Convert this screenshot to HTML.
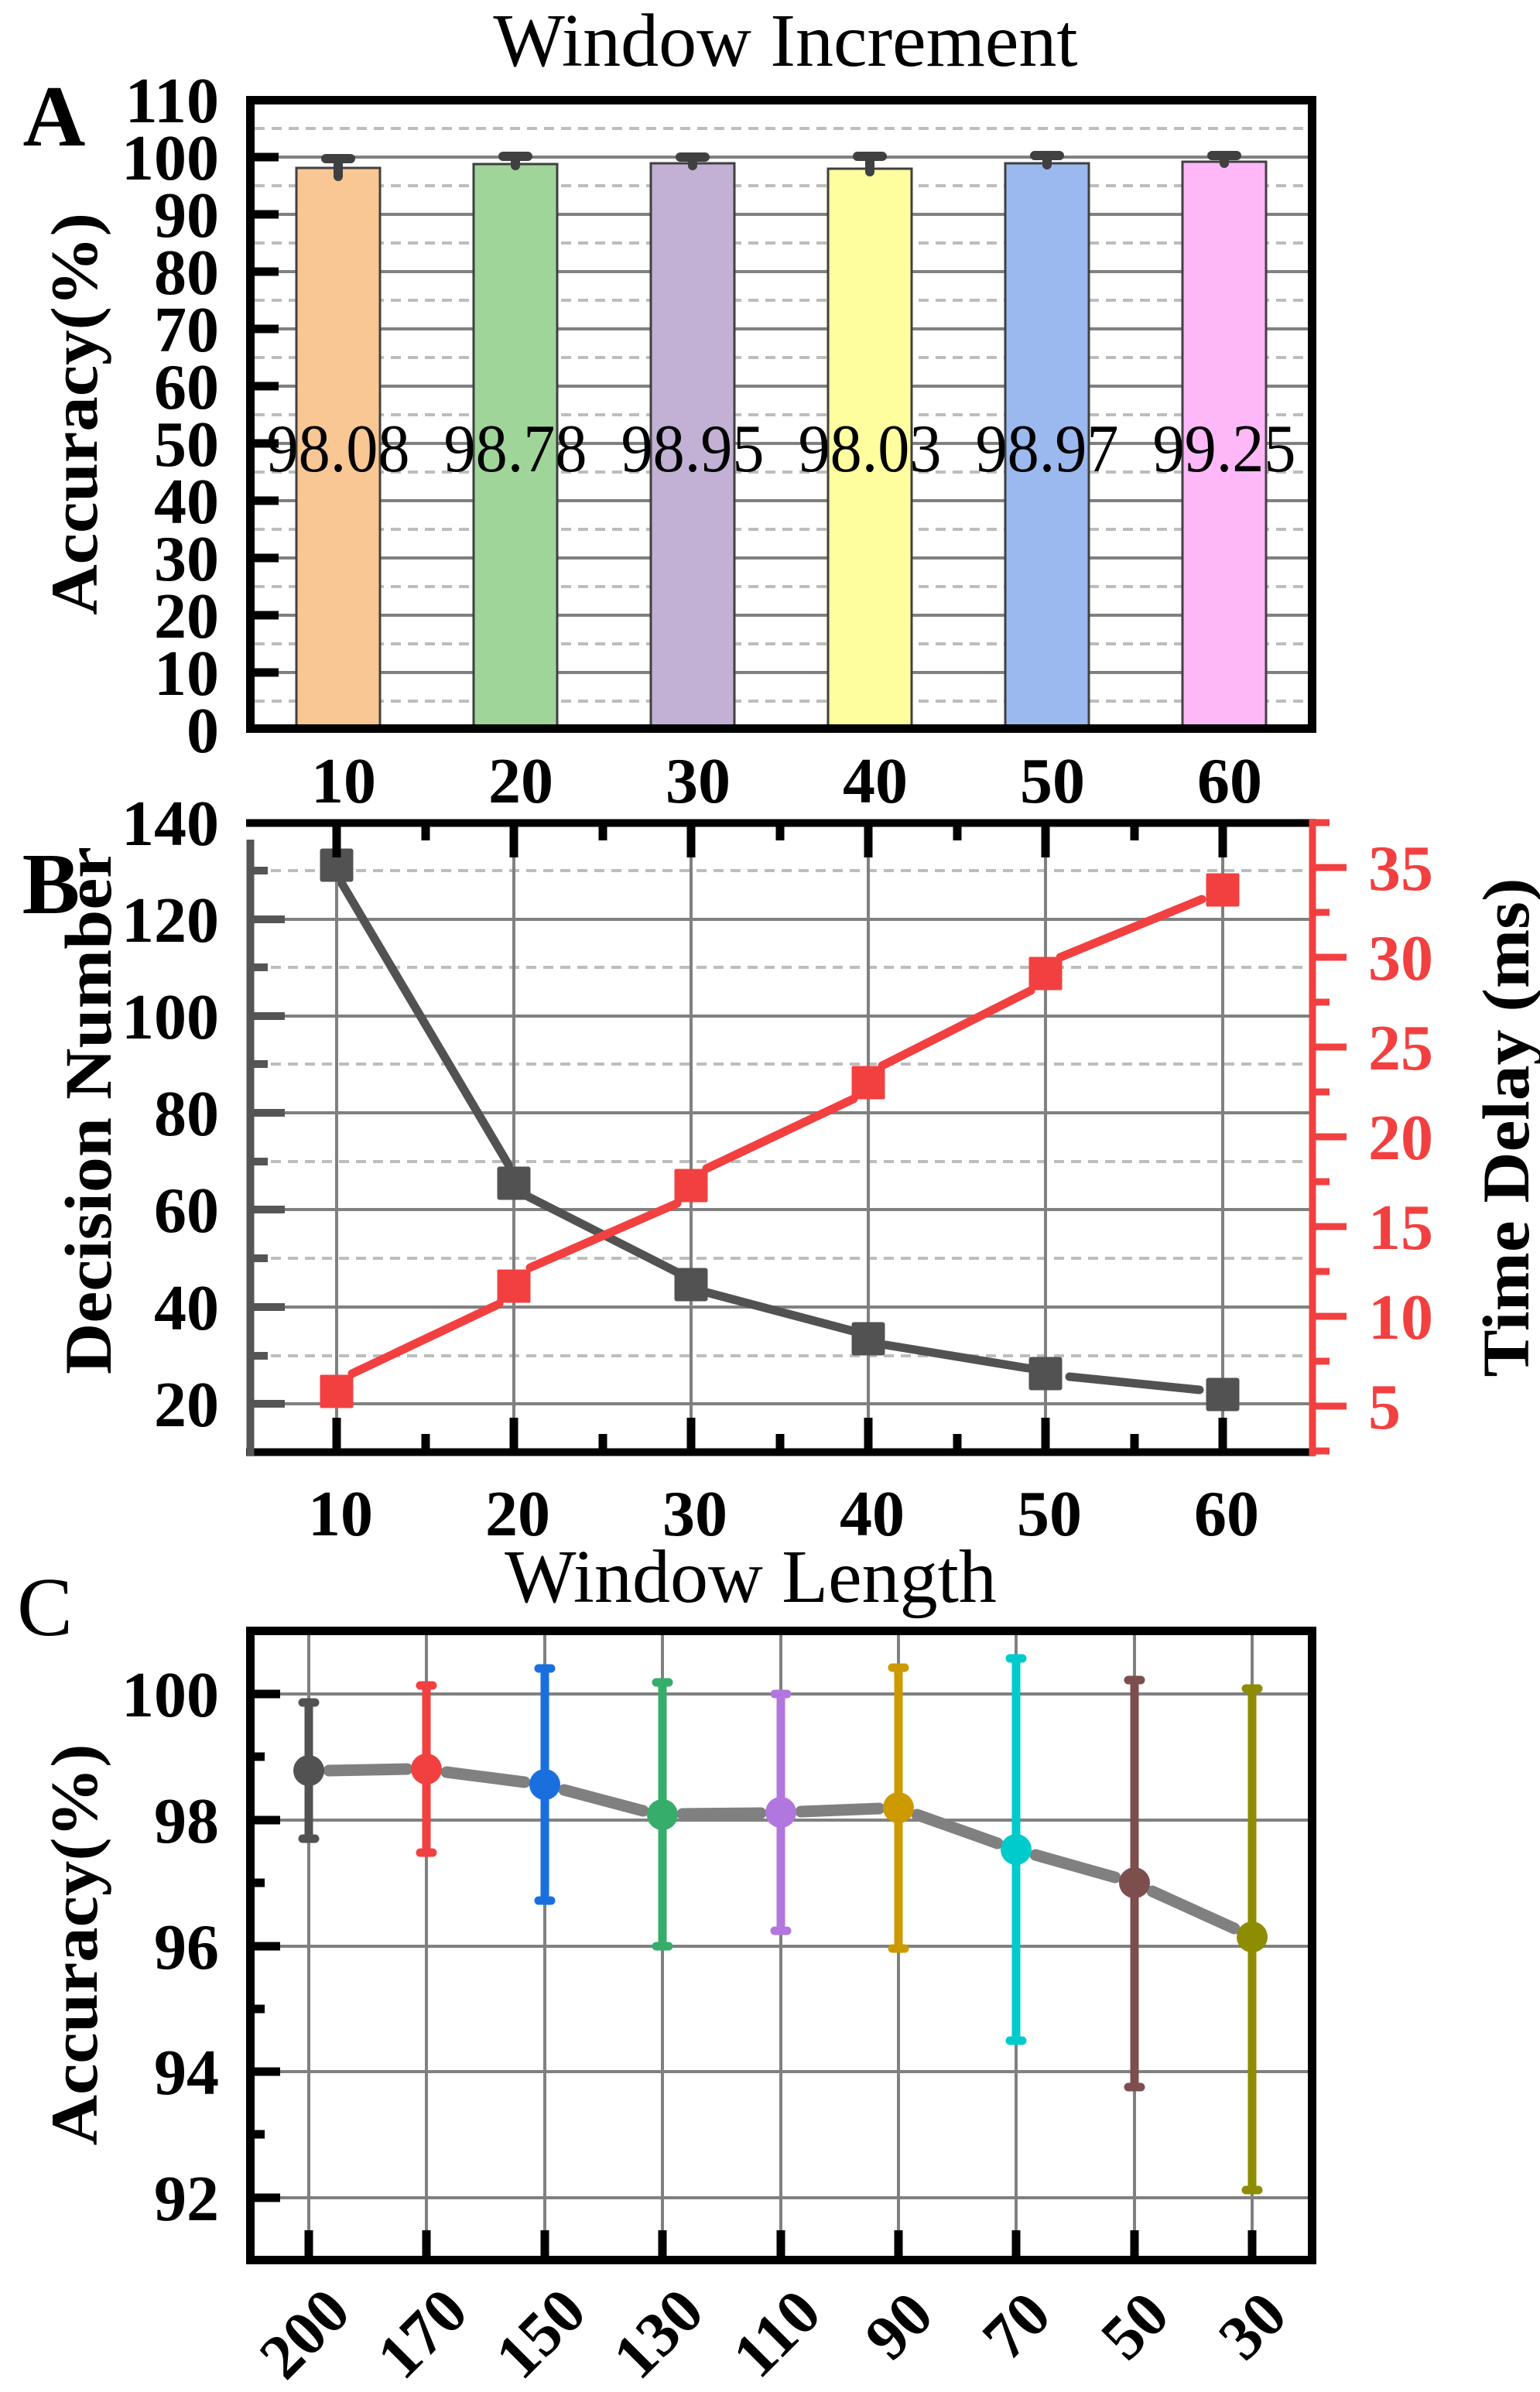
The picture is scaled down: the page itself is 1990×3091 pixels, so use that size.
<!DOCTYPE html>
<html><head><meta charset="utf-8"><style>
html,body{margin:0;padding:0;background:#fff;}
svg{display:block;}
text{font-family:"Liberation Serif","DejaVu Serif",serif;}
.b{font-weight:bold;}
</style></head><body>
<svg width="1990" height="3091" viewBox="0 0 1990 3091" xmlns="http://www.w3.org/2000/svg">
<rect width="1990" height="3091" fill="#fff"/>

<!-- ================= PANEL A ================= -->
<text x="1015" y="85" font-size="98" text-anchor="middle">Window Increment</text>
<text x="70" y="188" font-size="112" class="b" text-anchor="middle">A</text>
<g stroke="#bdbdbd" stroke-width="4" stroke-dasharray="13,9">
<line x1="329" x2="1690" y1="166" y2="166"/><line x1="329" x2="1690" y1="240" y2="240"/>
<line x1="329" x2="1690" y1="314" y2="314"/><line x1="329" x2="1690" y1="388" y2="388"/>
<line x1="329" x2="1690" y1="462" y2="462"/><line x1="329" x2="1690" y1="536" y2="536"/>
<line x1="329" x2="1690" y1="610" y2="610"/><line x1="329" x2="1690" y1="684" y2="684"/>
<line x1="329" x2="1690" y1="758" y2="758"/><line x1="329" x2="1690" y1="832" y2="832"/>
<line x1="329" x2="1690" y1="906" y2="906"/>
</g>
<g stroke="#808080" stroke-width="4">
<line x1="329" x2="1690" y1="203" y2="203"/><line x1="329" x2="1690" y1="277" y2="277"/>
<line x1="329" x2="1690" y1="351" y2="351"/><line x1="329" x2="1690" y1="425" y2="425"/>
<line x1="329" x2="1690" y1="499" y2="499"/><line x1="329" x2="1690" y1="573" y2="573"/>
<line x1="329" x2="1690" y1="647" y2="647"/><line x1="329" x2="1690" y1="721" y2="721"/>
<line x1="329" x2="1690" y1="795" y2="795"/><line x1="329" x2="1690" y1="869" y2="869"/>
</g>
<g stroke="#404040" stroke-width="3">
<rect x="383" y="217" width="108" height="724" fill="#F9C794"/>
<rect x="612" y="212" width="108" height="729" fill="#A0D59A"/>
<rect x="841" y="211" width="108" height="730" fill="#C2B1D4"/>
<rect x="1070" y="218" width="108" height="723" fill="#FFFE9E"/>
<rect x="1299" y="211" width="108" height="730" fill="#9BB9EF"/>
<rect x="1528" y="209" width="108" height="732" fill="#FEB8F8"/>
</g>
<g stroke="#404040" stroke-width="12" stroke-linecap="round">
<line x1="437" x2="437" y1="205" y2="228"/><line x1="421" x2="453" y1="205" y2="205"/>
<line x1="666" x2="666" y1="202" y2="214"/><line x1="650" x2="682" y1="202" y2="202"/>
<line x1="895" x2="895" y1="203" y2="214"/><line x1="879" x2="911" y1="203" y2="203"/>
<line x1="1124" x2="1124" y1="202" y2="222"/><line x1="1108" x2="1140" y1="202" y2="202"/>
<line x1="1353" x2="1353" y1="201" y2="213"/><line x1="1337" x2="1369" y1="201" y2="201"/>
<line x1="1582" x2="1582" y1="201" y2="211"/><line x1="1566" x2="1598" y1="201" y2="201"/>
</g>
<g font-size="88" text-anchor="middle">
<text x="437" y="609" textLength="185" lengthAdjust="spacingAndGlyphs">98.08</text>
<text x="666" y="609" textLength="185" lengthAdjust="spacingAndGlyphs">98.78</text>
<text x="895" y="609" textLength="185" lengthAdjust="spacingAndGlyphs">98.95</text>
<text x="1124" y="609" textLength="185" lengthAdjust="spacingAndGlyphs">98.03</text>
<text x="1353" y="609" textLength="185" lengthAdjust="spacingAndGlyphs">98.97</text>
<text x="1582" y="609" textLength="185" lengthAdjust="spacingAndGlyphs">99.25</text>
</g>
<g stroke="#000" stroke-width="11">
<line x1="329" x2="360" y1="203" y2="203"/><line x1="329" x2="360" y1="277" y2="277"/>
<line x1="329" x2="360" y1="351" y2="351"/><line x1="329" x2="360" y1="425" y2="425"/>
<line x1="329" x2="360" y1="499" y2="499"/><line x1="329" x2="360" y1="573" y2="573"/>
<line x1="329" x2="360" y1="647" y2="647"/><line x1="329" x2="360" y1="721" y2="721"/>
<line x1="329" x2="360" y1="795" y2="795"/><line x1="329" x2="360" y1="869" y2="869"/>
</g>
<rect x="323.5" y="129.5" width="1372" height="812" fill="none" stroke="#000" stroke-width="11"/>
<g font-size="84" class="b" text-anchor="end">
<text x="283" y="158">110</text><text x="283" y="232">100</text><text x="283" y="306">90</text>
<text x="283" y="380">80</text><text x="283" y="454">70</text><text x="283" y="528">60</text>
<text x="283" y="602">50</text><text x="283" y="676">40</text><text x="283" y="750">30</text>
<text x="283" y="824">20</text><text x="283" y="898">10</text><text x="283" y="972">0</text>
</g>
<g font-size="84" class="b" text-anchor="middle">
<text x="444" y="1037">10</text><text x="673" y="1037">20</text><text x="902" y="1037">30</text>
<text x="1131" y="1037">40</text><text x="1360" y="1037">50</text><text x="1589" y="1037">60</text>
</g>
<text transform="translate(125,535) rotate(-90)" font-size="86" class="b" text-anchor="middle" textLength="520" lengthAdjust="spacingAndGlyphs">Accuracy(%)</text>

<!-- ================= PANEL B ================= -->
<text x="66" y="1180" font-size="112" class="b" text-anchor="middle">B</text>
<g stroke="#bdbdbd" stroke-width="4" stroke-dasharray="13,9">
<line x1="328" x2="1692" y1="1125" y2="1125"/><line x1="328" x2="1692" y1="1250" y2="1250"/>
<line x1="328" x2="1692" y1="1375" y2="1375"/><line x1="328" x2="1692" y1="1501" y2="1501"/>
<line x1="328" x2="1692" y1="1626" y2="1626"/><line x1="328" x2="1692" y1="1752" y2="1752"/>
</g>
<g stroke="#808080" stroke-width="4">
<line x1="328" x2="1692" y1="1188" y2="1188"/><line x1="328" x2="1692" y1="1313" y2="1313"/>
<line x1="328" x2="1692" y1="1438" y2="1438"/><line x1="328" x2="1692" y1="1563" y2="1563"/>
<line x1="328" x2="1692" y1="1689" y2="1689"/><line x1="328" x2="1692" y1="1814" y2="1814"/>
<line x1="435" x2="435" y1="1068" y2="1872"/><line x1="664" x2="664" y1="1068" y2="1872"/>
<line x1="893" x2="893" y1="1068" y2="1872"/><line x1="1122" x2="1122" y1="1068" y2="1872"/>
<line x1="1351" x2="1351" y1="1068" y2="1872"/><line x1="1580" x2="1580" y1="1068" y2="1872"/>
</g>
<g stroke="#525252" stroke-width="11" stroke-linecap="round" fill="none">
<line x1="442" y1="1142" x2="657" y2="1505"/>
<line x1="680" y1="1545" x2="877" y2="1645"/>
<line x1="913" y1="1670" x2="1102" y2="1720"/>
<line x1="1145" y1="1738" x2="1328" y2="1768"/>
<line x1="1382" y1="1779" x2="1550" y2="1796"/>
</g>
<g fill="#525252">
<rect x="413.5" y="1096.5" width="43" height="43" rx="3"/>
<rect x="642.5" y="1507.5" width="43" height="43" rx="3"/>
<rect x="871.5" y="1638.5" width="43" height="43" rx="3"/>
<rect x="1100.5" y="1708.5" width="43" height="43" rx="3"/>
<rect x="1329.5" y="1753.5" width="43" height="43" rx="3"/>
<rect x="1558.5" y="1780.5" width="43" height="43" rx="3"/>
</g>
<g stroke="#F24040" stroke-width="11" stroke-linecap="round" fill="none">
<line x1="455" y1="1775" x2="645" y2="1685"/>
<line x1="685" y1="1638" x2="875" y2="1555"/>
<line x1="913" y1="1510" x2="1103" y2="1420"/>
<line x1="1140" y1="1377" x2="1332" y2="1280"/>
<line x1="1370" y1="1237" x2="1553" y2="1162"/>
</g>
<g fill="#F24040">
<rect x="413.5" y="1776.5" width="43" height="43" rx="2"/>
<rect x="642.5" y="1640.5" width="43" height="43" rx="2"/>
<rect x="871.5" y="1510.5" width="43" height="43" rx="2"/>
<rect x="1100.5" y="1377.5" width="43" height="43" rx="2"/>
<rect x="1329.5" y="1236.5" width="43" height="43" rx="2"/>
<rect x="1558.5" y="1128.5" width="43" height="43" rx="2"/>
</g>
<g stroke="#000" stroke-width="11">
<line x1="435" x2="435" y1="1068" y2="1108"/><line x1="664" x2="664" y1="1068" y2="1108"/>
<line x1="893" x2="893" y1="1068" y2="1108"/><line x1="1122" x2="1122" y1="1068" y2="1108"/>
<line x1="1351" x2="1351" y1="1068" y2="1108"/><line x1="1580" x2="1580" y1="1068" y2="1108"/>
<line x1="550" x2="550" y1="1068" y2="1086"/><line x1="779" x2="779" y1="1068" y2="1086"/>
<line x1="1008" x2="1008" y1="1068" y2="1086"/><line x1="1237" x2="1237" y1="1068" y2="1086"/>
<line x1="1466" x2="1466" y1="1068" y2="1086"/>
<line x1="435" x2="435" y1="1832" y2="1872"/><line x1="664" x2="664" y1="1832" y2="1872"/>
<line x1="893" x2="893" y1="1832" y2="1872"/><line x1="1122" x2="1122" y1="1832" y2="1872"/>
<line x1="1351" x2="1351" y1="1832" y2="1872"/><line x1="1580" x2="1580" y1="1832" y2="1872"/>
<line x1="550" x2="550" y1="1853" y2="1872"/><line x1="779" x2="779" y1="1853" y2="1872"/>
<line x1="1008" x2="1008" y1="1853" y2="1872"/><line x1="1237" x2="1237" y1="1853" y2="1872"/>
<line x1="1466" x2="1466" y1="1853" y2="1872"/>
</g>
<line x1="318" x2="1700" y1="1063.5" y2="1063.5" stroke="#000" stroke-width="10"/>
<line x1="318" x2="1700" y1="1876.5" y2="1876.5" stroke="#000" stroke-width="10"/>
<line x1="323.5" x2="323.5" y1="1085" y2="1881" stroke="#555" stroke-width="10"/>
<g stroke="#555" stroke-width="10">
<line x1="328" x2="368" y1="1188" y2="1188"/><line x1="328" x2="368" y1="1313" y2="1313"/>
<line x1="328" x2="368" y1="1438" y2="1438"/><line x1="328" x2="368" y1="1563" y2="1563"/>
<line x1="328" x2="368" y1="1689" y2="1689"/><line x1="328" x2="368" y1="1814" y2="1814"/>
<line x1="328" x2="346" y1="1125" y2="1125"/><line x1="328" x2="346" y1="1250" y2="1250"/>
<line x1="328" x2="346" y1="1375" y2="1375"/><line x1="328" x2="346" y1="1501" y2="1501"/>
<line x1="328" x2="346" y1="1626" y2="1626"/><line x1="328" x2="346" y1="1752" y2="1752"/>
</g>
<line x1="1696" x2="1696" y1="1059" y2="1881" stroke="#F24040" stroke-width="9"/>
<g stroke="#F24040" stroke-width="9">
<line x1="1700" x2="1740" y1="1121" y2="1121"/><line x1="1700" x2="1740" y1="1237" y2="1237"/>
<line x1="1700" x2="1740" y1="1353" y2="1353"/><line x1="1700" x2="1740" y1="1469" y2="1469"/>
<line x1="1700" x2="1740" y1="1585" y2="1585"/><line x1="1700" x2="1740" y1="1701" y2="1701"/>
<line x1="1700" x2="1740" y1="1817" y2="1817"/>
<line x1="1700" x2="1718" y1="1063" y2="1063"/><line x1="1700" x2="1718" y1="1179" y2="1179"/>
<line x1="1700" x2="1718" y1="1295" y2="1295"/><line x1="1700" x2="1718" y1="1411" y2="1411"/>
<line x1="1700" x2="1718" y1="1527" y2="1527"/><line x1="1700" x2="1718" y1="1643" y2="1643"/>
<line x1="1700" x2="1718" y1="1759" y2="1759"/><line x1="1700" x2="1718" y1="1875" y2="1875"/>
</g>
<g font-size="84" class="b" text-anchor="end">
<text x="283" y="1092">140</text><text x="283" y="1217">120</text><text x="283" y="1342">100</text>
<text x="283" y="1467">80</text><text x="283" y="1592">60</text><text x="283" y="1718">40</text>
<text x="283" y="1843">20</text>
</g>
<g font-size="84" class="b" fill="#F24040" text-anchor="start">
<text x="1768" y="1150">35</text><text x="1768" y="1266">30</text><text x="1768" y="1382">25</text>
<text x="1768" y="1498">20</text><text x="1768" y="1614">15</text><text x="1768" y="1730">10</text>
<text x="1768" y="1846">5</text>
</g>
<g font-size="84" class="b" text-anchor="middle">
<text x="440" y="1984">10</text><text x="669" y="1984">20</text><text x="898" y="1984">30</text>
<text x="1127" y="1984">40</text><text x="1356" y="1984">50</text><text x="1585" y="1984">60</text>
</g>
<text transform="translate(143,1435) rotate(-90)" font-size="86" class="b" text-anchor="middle" textLength="682" lengthAdjust="spacingAndGlyphs">Decision Number</text>
<text transform="translate(1975,1457) rotate(-90)" font-size="86" class="b" text-anchor="middle" textLength="645" lengthAdjust="spacingAndGlyphs">Time Delay (ms)</text>

<!-- ================= PANEL C ================= -->
<text x="970" y="2070" font-size="98" text-anchor="middle">Window Length</text>
<text x="58" y="2113" font-size="108" text-anchor="middle">C</text>
<g stroke="#808080" stroke-width="4">
<line x1="329" x2="1690" y1="2189" y2="2189"/><line x1="329" x2="1690" y1="2352" y2="2352"/>
<line x1="329" x2="1690" y1="2515" y2="2515"/><line x1="329" x2="1690" y1="2677" y2="2677"/>
<line x1="329" x2="1690" y1="2840" y2="2840"/>
<line x1="399" x2="399" y1="2113" y2="2915"/><line x1="551" x2="551" y1="2113" y2="2915"/>
<line x1="704" x2="704" y1="2113" y2="2915"/><line x1="856" x2="856" y1="2113" y2="2915"/>
<line x1="1009" x2="1009" y1="2113" y2="2915"/><line x1="1161" x2="1161" y1="2113" y2="2915"/>
<line x1="1313" x2="1313" y1="2113" y2="2915"/><line x1="1466" x2="1466" y1="2113" y2="2915"/>
<line x1="1618" x2="1618" y1="2113" y2="2915"/>
</g>
<g stroke="#808080" stroke-width="15" stroke-linecap="round">
<line x1="425" y1="2288" x2="526" y2="2286"/>
<line x1="577" y1="2290" x2="678" y2="2303"/>
<line x1="729" y1="2313" x2="831" y2="2340"/>
<line x1="882" y1="2344" x2="983" y2="2343"/>
<line x1="1035" y1="2341" x2="1136" y2="2337"/>
<line x1="1185" y1="2345" x2="1289" y2="2382"/>
<line x1="1338" y1="2397" x2="1441" y2="2426"/>
<line x1="1489" y1="2444" x2="1595" y2="2492"/>
</g>
<g stroke-width="11" stroke-linecap="round">
<g stroke="#525252"><line x1="399" x2="399" y1="2200" y2="2376"/><line x1="391" x2="407" y1="2200" y2="2200"/><line x1="391" x2="407" y1="2376" y2="2376"/></g>
<g stroke="#F24040"><line x1="551" x2="551" y1="2178" y2="2394"/><line x1="543" x2="559" y1="2178" y2="2178"/><line x1="543" x2="559" y1="2394" y2="2394"/></g>
<g stroke="#1A6FDF"><line x1="704" x2="704" y1="2156" y2="2456"/><line x1="696" x2="712" y1="2156" y2="2156"/><line x1="696" x2="712" y1="2456" y2="2456"/></g>
<g stroke="#37AD6B"><line x1="856" x2="856" y1="2174" y2="2515"/><line x1="848" x2="864" y1="2174" y2="2174"/><line x1="848" x2="864" y1="2515" y2="2515"/></g>
<g stroke="#B177DE"><line x1="1009" x2="1009" y1="2189" y2="2495"/><line x1="1001" x2="1017" y1="2189" y2="2189"/><line x1="1001" x2="1017" y1="2495" y2="2495"/></g>
<g stroke="#CC9900"><line x1="1161" x2="1161" y1="2155" y2="2518"/><line x1="1153" x2="1169" y1="2155" y2="2155"/><line x1="1153" x2="1169" y1="2518" y2="2518"/></g>
<g stroke="#00CBCC"><line x1="1313" x2="1313" y1="2143" y2="2637"/><line x1="1305" x2="1321" y1="2143" y2="2143"/><line x1="1305" x2="1321" y1="2637" y2="2637"/></g>
<g stroke="#7D4E4E"><line x1="1466" x2="1466" y1="2171" y2="2697"/><line x1="1458" x2="1474" y1="2171" y2="2171"/><line x1="1458" x2="1474" y1="2697" y2="2697"/></g>
<g stroke="#8E8C00"><line x1="1618" x2="1618" y1="2182" y2="2830"/><line x1="1610" x2="1626" y1="2182" y2="2182"/><line x1="1610" x2="1626" y1="2830" y2="2830"/></g>
</g>
<circle cx="399" cy="2288" r="20" fill="#525252"/>
<circle cx="551" cy="2286" r="20" fill="#F24040"/>
<circle cx="704" cy="2306" r="20" fill="#1A6FDF"/>
<circle cx="856" cy="2345" r="20" fill="#37AD6B"/>
<circle cx="1009" cy="2342" r="20" fill="#B177DE"/>
<circle cx="1161" cy="2336" r="20" fill="#CC9900"/>
<circle cx="1313" cy="2390" r="20" fill="#00CBCC"/>
<circle cx="1466" cy="2433" r="20" fill="#7D4E4E"/>
<circle cx="1618" cy="2503" r="20" fill="#8E8C00"/>
<g stroke="#000" stroke-width="11">
<line x1="329" x2="362" y1="2189" y2="2189"/><line x1="329" x2="362" y1="2352" y2="2352"/>
<line x1="329" x2="362" y1="2515" y2="2515"/><line x1="329" x2="362" y1="2677" y2="2677"/>
<line x1="329" x2="362" y1="2840" y2="2840"/>
<line x1="329" x2="342" y1="2270" y2="2270"/><line x1="329" x2="342" y1="2433" y2="2433"/>
<line x1="329" x2="342" y1="2596" y2="2596"/><line x1="329" x2="342" y1="2758" y2="2758"/>
<line x1="399" x2="399" y1="2882" y2="2915"/><line x1="551" x2="551" y1="2882" y2="2915"/>
<line x1="704" x2="704" y1="2882" y2="2915"/><line x1="856" x2="856" y1="2882" y2="2915"/>
<line x1="1009" x2="1009" y1="2882" y2="2915"/><line x1="1161" x2="1161" y1="2882" y2="2915"/>
<line x1="1313" x2="1313" y1="2882" y2="2915"/><line x1="1466" x2="1466" y1="2882" y2="2915"/>
<line x1="1618" x2="1618" y1="2882" y2="2915"/>
</g>
<rect x="323.5" y="2107.5" width="1372" height="813" fill="none" stroke="#000" stroke-width="11"/>
<g font-size="84" class="b" text-anchor="end">
<text x="283" y="2218">100</text><text x="283" y="2381">98</text><text x="283" y="2544">96</text>
<text x="283" y="2706">94</text><text x="283" y="2869">92</text>
</g>
<g font-size="82" class="b" text-anchor="middle">
<text transform="translate(393,3015) rotate(-45)" dy="28">200</text>
<text transform="translate(545,3015) rotate(-45)" dy="28">170</text>
<text transform="translate(698,3015) rotate(-45)" dy="28">150</text>
<text transform="translate(850,3015) rotate(-45)" dy="28">130</text>
<text transform="translate(1003,3015) rotate(-45)" dy="28">110</text>
<text transform="translate(1161,3005) rotate(-45)" dy="28">90</text>
<text transform="translate(1313,3005) rotate(-45)" dy="28">70</text>
<text transform="translate(1466,3005) rotate(-45)" dy="28">50</text>
<text transform="translate(1618,3005) rotate(-45)" dy="28">30</text>
</g>
<text transform="translate(125,2513) rotate(-90)" font-size="86" class="b" text-anchor="middle" textLength="519" lengthAdjust="spacingAndGlyphs">Accuracy(%)</text>
</svg>
</body></html>
